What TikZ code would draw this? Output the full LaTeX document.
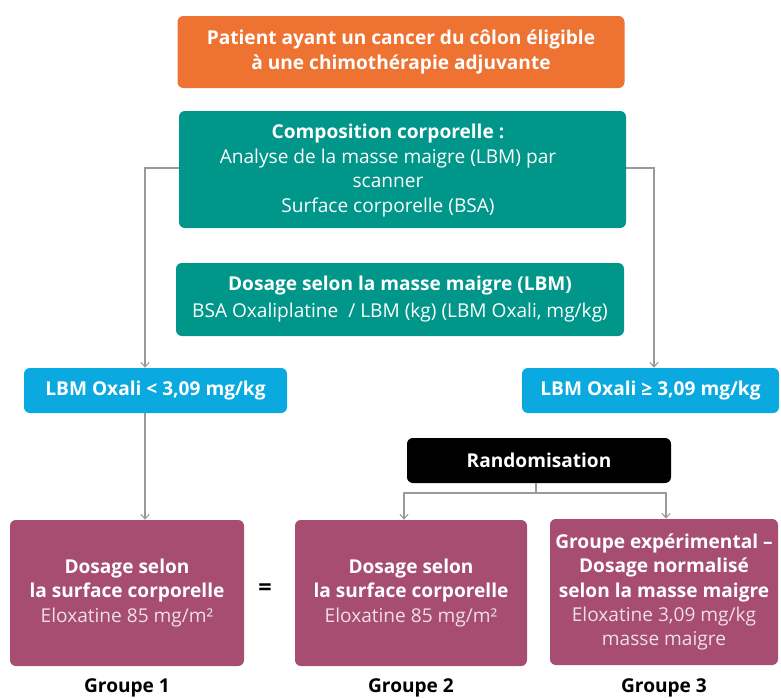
\documentclass[tikz,border=0pt]{standalone}
\usepackage{fontspec}
\setmainfont{Open Sans}
\usetikzlibrary{arrows.meta,positioning}
\definecolor{orangebox}{HTML}{EE7231}
\definecolor{tealbox}{HTML}{00968A}
\definecolor{bluebox}{HTML}{0AA9DF}
\definecolor{plumbox}{HTML}{A64D71}
\definecolor{linkgray}{HTML}{9A9A9A}
\begin{document}
\begin{tikzpicture}[x=0.03cm,y=-0.03cm,
  box/.style={rounded corners=5pt,text=white,align=center,inner sep=0pt,font=\fontsize{16.3}{20.6}\selectfont},
  link/.style={draw=linkgray,line width=0.9pt,-{Straight Barb[length=4pt,width=7pt]}}]
  \useasboundingbox (0,0) rectangle (781,698);
  % top of the flow
  \node[box,fill=orangebox,minimum width=447*0.03cm,minimum height=72*0.03cm] (patient) at (401,52)
    {\bfseries Patient ayant un cancer du côlon éligible\\\bfseries à une chimothérapie adjuvante};
  \node[box,fill=tealbox,minimum width=447*0.03cm,minimum height=117*0.03cm] (compo) at (402.5,169.5) {};
  \node[box,font=\fontsize{16.3}{21}\selectfont] (compotext) at (388,170.5)
    {\bfseries Composition corporelle :\\Analyse de la masse maigre (LBM) par\\scanner\\Surface corporelle (BSA)};
  \node[box,fill=tealbox,minimum width=448*0.03cm,minimum height=73*0.03cm,font=\fontsize{16.3}{23}\selectfont] (dose) at (400,299.5)
    {\bfseries Dosage selon la masse maigre (LBM)\\BSA Oxaliplatine~~/ LBM (kg) (LBM Oxali, mg/kg)};
  % the two strata
  \node[box,fill=bluebox,minimum width=263*0.03cm,minimum height=45*0.03cm] (low) at (155.5,390.5)
    {\bfseries LBM Oxali < 3,09 mg/kg};
  \node[box,fill=bluebox,minimum width=257*0.03cm,minimum height=45*0.03cm] (high) at (650.5,390.5)
    {\bfseries LBM Oxali ≥ 3,09 mg/kg};
  \node[box,fill=black,minimum width=264*0.03cm,minimum height=45*0.03cm] (rand) at (539,460.5)
    {\bfseries Randomisation};
  % groups
  \node[box,fill=plumbox,minimum width=234*0.03cm,minimum height=146*0.03cm] (g1) at (127,593)
    {\bfseries Dosage selon\\\bfseries la surface corporelle\\\color{white!82!plumbox}Eloxatine 85 mg/m²};
  \node[box,fill=plumbox,minimum width=232*0.03cm,minimum height=146*0.03cm] (g2) at (411,593)
    {\bfseries Dosage selon\\\bfseries la surface corporelle\\\color{white!82!plumbox}Eloxatine 85 mg/m²};
  \node[box,fill=plumbox,minimum width=228*0.03cm,minimum height=146*0.03cm] (g3) at (664,592)
    {\bfseries Groupe expérimental –\\\bfseries Dosage normalisé\\\bfseries selon la masse maigre\\
     \color{white!82!plumbox}Eloxatine 3,09 mg/kg\\\color{white!82!plumbox}masse maigre};
  \node[font=\bfseries\fontsize{20}{20}\selectfont] (eq) at (265,590) {=};
  \foreach \g/\n in {g1/1,g2/2,g3/3}
    \node[font=\bfseries\fontsize{16.3}{18}\selectfont,anchor=center] (lab\n) at (\g.center |- 0,688) {Groupe \n};
  % connectors
  \coordinate (lturn) at (145,168);
  \coordinate (rturn) at (654,168);
  \coordinate (split) at (536,493);
  \draw[link] (compo.west |- lturn) -- (lturn) -- (lturn |- low.north);
  \draw[link] (compo.east |- rturn) -- (rturn) -- (rturn |- high.north);
  \draw[link] (lturn |- low.south) -- (lturn |- g1.north);
  \draw[draw=linkgray,line width=0.9pt] (split |- rand.south) -- (split);
  \draw[link] (split) -| (404,0 |- g2.north);
  \draw[link] (split) -| (666,0 |- g3.north);
\end{tikzpicture}
\end{document}
